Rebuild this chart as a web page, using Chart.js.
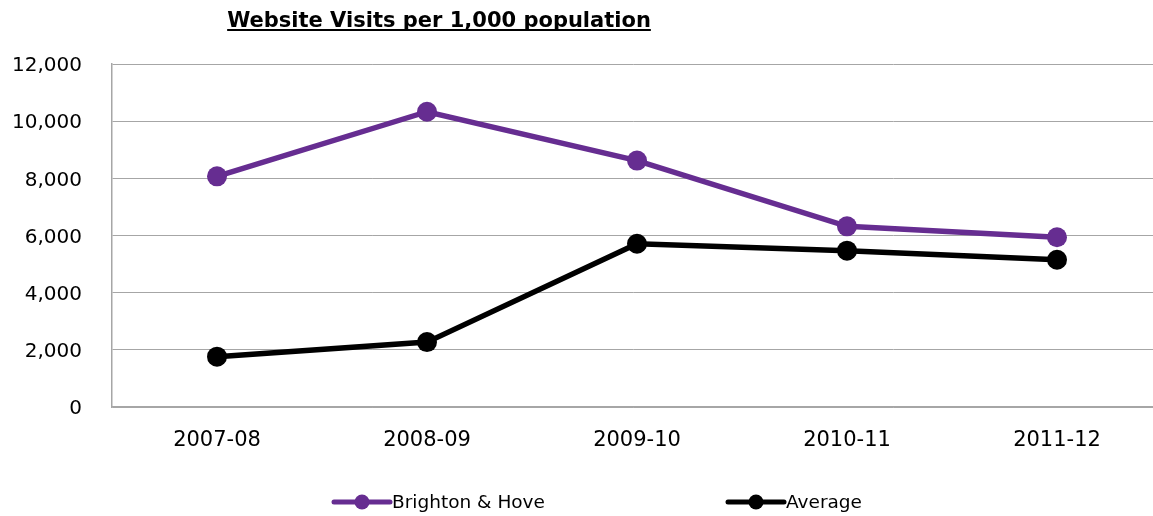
<!DOCTYPE html>
<html>
<head>
<meta charset="utf-8">
<script src="https://cdn.jsdelivr.net/npm/chart.js@4/dist/chart.umd.min.js"></script>
<style>
  html, body { margin: 0; padding: 0; background: #fff; }
</style>
</head>
<body>
<canvas id="visitsChart" width="1153" height="516"></canvas>
<script>
const yearLabels = ['2007-08', '2008-09', '2009-10', '2010-11', '2011-12'];
const brightonValues = [8070, 10330, 8620, 6320, 5940];
const averageValues = [1760, 2270, 5710, 5470, 5150];
const yTicks = [0, 2000, 4000, 6000, 8000, 10000, 12000];

const titleText = 'Website Visits per 1,000 population';
const fontFamily = '"DejaVu Sans", Verdana, sans-serif';
const purple = 'rgb(102, 45, 145)';
const black = 'rgb(0, 0, 0)';
const overflowRight = 9; // the original plot runs a little past the right edge

// stretch the plot area past the canvas edge, like the cropped original
const widenPlot = {
  id: 'widenPlot',
  afterLayout(chart) {
    const area = chart.chartArea;
    area.right = chart.width + overflowRight;
    area.width = area.right - area.left;
    const x = chart.scales.x;
    x.right = area.right;
    x.width = area.width;
    x.configure();
  }
};

// title drawn by hand so it can be underlined like the original
const underlinedTitle = {
  id: 'underlinedTitle',
  afterDraw(chart) {
    const ctx = chart.ctx;
    ctx.save();
    ctx.font = 'bold 21px ' + fontFamily;
    ctx.fillStyle = '#000';
    ctx.textBaseline = 'alphabetic';
    const w = ctx.measureText(titleText).width;
    const x = 439 - w / 2;
    ctx.fillText(titleText, x, 27);
    ctx.fillRect(x, 29, w, 2);
    ctx.restore();
  }
};

// legend with a line and a dot, like the spreadsheet legend
const lineLegend = {
  id: 'lineLegend',
  afterDraw(chart) {
    const ctx = chart.ctx;
    const starts = [334, 728];
    ctx.save();
    ctx.font = '18.5px ' + fontFamily;
    ctx.textBaseline = 'middle';
    chart.data.datasets.forEach((ds, i) => {
      const x = starts[i];
      const y = 502;
      ctx.strokeStyle = ds.borderColor;
      ctx.fillStyle = ds.borderColor;
      ctx.lineWidth = 5;
      ctx.lineCap = 'round';
      ctx.beginPath();
      ctx.moveTo(x, y);
      ctx.lineTo(x + 56, y);
      ctx.stroke();
      ctx.beginPath();
      ctx.arc(x + 28, y, 7.5, 0, Math.PI * 2);
      ctx.fill();
      ctx.fillStyle = '#000';
      ctx.fillText(ds.label, x + 58, y + 1);
    });
    ctx.restore();
  }
};

const visitsData = {
  labels: yearLabels,
  datasets: [{
    label: 'Brighton & Hove',
    data: brightonValues,
    borderColor: purple,
    backgroundColor: purple,
    borderWidth: 5.5,
    pointRadius: 10,
    pointHoverRadius: 10,
    pointBorderWidth: 0
  }, {
    label: 'Average',
    data: averageValues,
    borderColor: black,
    backgroundColor: black,
    borderWidth: 5.5,
    pointRadius: 10,
    pointHoverRadius: 10,
    pointBorderWidth: 0
  }]
};

const visitsConfig = {
  type: 'line',
  data: visitsData,
  options: {
    responsive: false,
    animation: false,
    devicePixelRatio: 1,
    layout: { padding: { top: 64, right: 0, bottom: 0, left: 0 } },
    plugins: {
      legend: { display: false },
      title: { display: false },
      tooltip: { enabled: false }
    },
    scales: {
      x: {
        offset: true,
        grid: { display: false, drawTicks: false },
        border: { color: '#a6a6a6', width: 1.5 },
        ticks: {
          color: '#000',
          font: { family: fontFamily, size: 21 },
          padding: 21
        },
        afterFit(scale) { scale.height = 109; }
      },
      y: {
        min: 0,
        max: 12000,
        afterBuildTicks(scale) {
          scale.ticks = yTicks.map(v => ({ value: v }));
        },
        grid: { color: '#a6a6a6', lineWidth: 1, drawTicks: false },
        border: { color: '#a6a6a6', width: 1.5 },
        ticks: {
          color: '#000',
          font: { family: fontFamily, size: 20 },
          padding: 30,
          labelOffset: 2,
          callback: v => v.toLocaleString('en-GB')
        },
        afterFit(scale) { scale.width = 112; }
      }
    }
  },
  plugins: [widenPlot, underlinedTitle, lineLegend]
};

const visitsChart = new Chart(document.getElementById('visitsChart'), visitsConfig);
</script>
</body>
</html>
